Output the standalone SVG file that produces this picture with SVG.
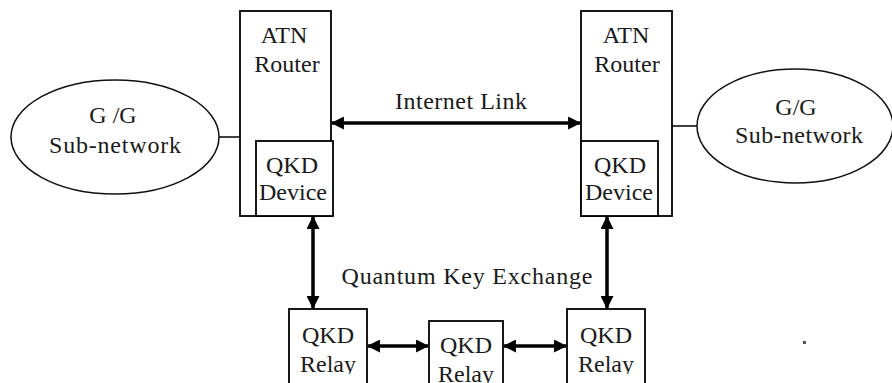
<svg xmlns="http://www.w3.org/2000/svg" width="892" height="383" viewBox="0 0 892 383">
  <style>
    .box { fill: #fff; stroke: #000; stroke-width: 1.8; }
    .net { fill: #fff; stroke: #111; stroke-width: 1.5; }
    .wire { stroke: #000; stroke-width: 1.5; fill: none; }
    .link { stroke: #000; stroke-width: 3.5; fill: none; marker-start: url(#head); marker-end: url(#head); }
    text { font-family: "Liberation Serif", "Times New Roman", serif; font-size: 24px; fill: #1a1a1a; text-anchor: middle; }
  </style>
  <defs>
    <marker id="head" viewBox="0 0 12 12" refX="11" refY="6" markerWidth="13" markerHeight="13" markerUnits="userSpaceOnUse" orient="auto-start-reverse">
      <path d="M0,0 L12,6 L0,12 Z" fill="#000"/>
    </marker>
    <clipPath id="relayCut">
      <rect x="0" y="0" width="892" height="374"/>
    </clipPath>
  </defs>
  <rect width="892" height="383" fill="#fff"/>

  <!-- connectors -->
  <g id="connectors">
    <line class="wire" x1="218" y1="137" x2="240" y2="137"/>
    <line class="wire" x1="672" y1="126" x2="697" y2="126"/>
    <line class="link" x1="332" y1="123" x2="580" y2="123"/>
    <line class="link" x1="313" y1="217" x2="313" y2="308"/>
    <line class="link" x1="607" y1="217" x2="607" y2="308"/>
    <line class="link" x1="368" y1="346" x2="428" y2="346"/>
    <line class="link" x1="504" y1="346" x2="566" y2="346"/>
    <text x="461" y="109" textLength="132">Internet Link</text>
    <text x="467" y="284" textLength="251">Quantum Key Exchange</text>
  </g>

  <!-- left sub-network -->
  <g id="subnet-left">
    <ellipse class="net" cx="115" cy="137" rx="104" ry="57"/>
    <text x="113" y="123">G /G</text>
    <text x="115" y="153" textLength="132">Sub-network</text>
  </g>

  <!-- left router with its QKD device -->
  <g id="router-left">
    <rect class="box" x="240" y="11" width="91" height="205"/>
    <text x="284" y="43">ATN</text>
    <text x="287" y="72">Router</text>
  </g>
  <g id="qkd-device-left">
    <rect class="box" x="256" y="141" width="77" height="75"/>
    <text x="292" y="173">QKD</text>
    <text x="293" y="200">Device</text>
  </g>

  <!-- right router with its QKD device -->
  <g id="router-right">
    <rect class="box" x="581" y="11" width="91" height="205"/>
    <text x="626" y="43">ATN</text>
    <text x="627" y="72">Router</text>
  </g>
  <g id="qkd-device-right">
    <rect class="box" x="581" y="141" width="77" height="75"/>
    <text x="620" y="173">QKD</text>
    <text x="619" y="200">Device</text>
  </g>

  <!-- right sub-network -->
  <g id="subnet-right">
    <ellipse class="net" cx="795" cy="126" rx="98" ry="57"/>
    <text x="796" y="115">G/G</text>
    <text x="799" y="143" textLength="128">Sub-network</text>
  </g>

  <!-- relay chain -->
  <g id="relay-left">
    <rect class="box" x="289" y="309" width="78" height="90"/>
    <text x="328" y="343">QKD</text>
    <text x="328" y="372" clip-path="url(#relayCut)">Relay</text>
  </g>
  <g id="relay-middle">
    <rect class="box" x="429" y="321" width="74" height="80"/>
    <text x="466" y="353">QKD</text>
    <text x="466" y="382">Relay</text>
  </g>
  <g id="relay-right">
    <rect class="box" x="567" y="309" width="78" height="90"/>
    <text x="606" y="343">QKD</text>
    <text x="606" y="372" clip-path="url(#relayCut)">Relay</text>
  </g>

  <rect x="803" y="341" width="3" height="3" fill="#555"/>
</svg>
